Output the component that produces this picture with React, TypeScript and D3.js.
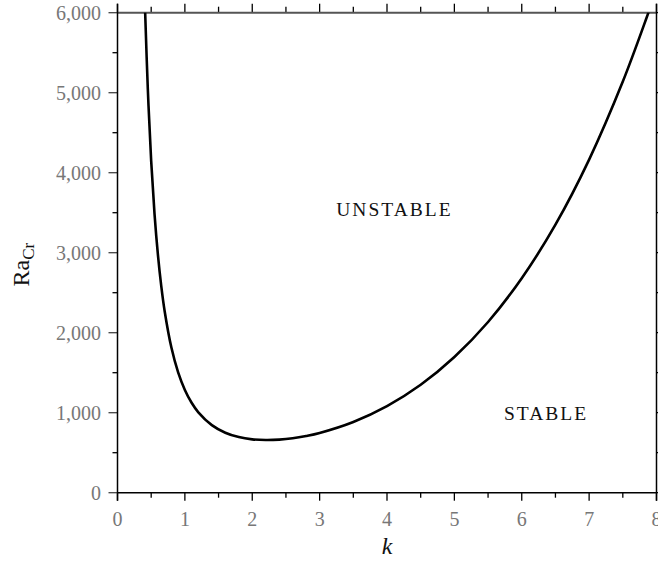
import React from "react";
import * as d3 from "d3";

const waveNumbers = [0.41, 0.45, 0.5, 0.55, 0.6, 0.65, 0.7, 0.8, 0.9, 1.0, 1.1, 1.2, 1.4, 1.6, 1.8, 2.0, 2.2, 2.4, 2.6, 2.8, 3.0, 3.5, 4.0, 4.5, 5.0, 5.5, 6.0, 6.5, 7.0, 7.5, 7.85, 7.9];
const criticalRa = [6016, 5046, 4145, 3479, 2973, 2580, 2269, 1814, 1504, 1284, 1124, 1005, 845, 750, 695, 667, 658, 663, 680, 709, 747, 884, 1082, 1349, 1696, 2134, 2681, 3351, 4164, 5139, 5930, 6050];
const xTicks = [0, 1, 2, 3, 4, 5, 6, 7, 8];
const yTicks = [0, 1000, 2000, 3000, 4000, 5000, 6000];
const regionLabels = ["UNSTABLE", "STABLE"];
const regionPos = [[4.11, 3550], [6.36, 1000]];

const W = 658, H = 561;
const left = 117.5, right = 656.5, top = 12.7, bottom = 492.7;
const FONT = "'Liberation Serif', 'Times New Roman', serif";

export default function App() {
  const x = d3.scaleLinear().domain([0, 8]).range([left, right]);
  const y = d3.scaleLinear().domain([0, 6000]).range([bottom, top]);
  const pts = waveNumbers.map((k, i) => [k, criticalRa[i]] as [number, number]);
  const line = d3.line<[number, number]>().x(d => x(d[0])).y(d => y(d[1])).curve(d3.curveCatmullRom.alpha(0.5));
  const xMinor = d3.range(0.5, 8, 1);
  const yMinor = d3.range(500, 6000, 1000);
  const fmt = d3.format(",");
  return (
    <svg width={W} height={H} style={{ position: "absolute", left: 0, top: 0, background: "#fff" }}>
      <defs>
        <clipPath id="plot"><rect x={left} y={top} width={right - left} height={bottom - top} /></clipPath>
      </defs>
      {xTicks.map(t => <line key={"xb" + t} x1={x(t)} x2={x(t)} y1={bottom} y2={bottom + 8} stroke="#000" strokeWidth={1.3} />)}
      {xMinor.map(t => <line key={"xbm" + t} x1={x(t)} x2={x(t)} y1={bottom} y2={bottom + 5} stroke="#000" strokeWidth={1.3} />)}
      {xTicks.map(t => <line key={"xt" + t} x1={x(t)} x2={x(t)} y1={top} y2={top - 9} stroke="#000" strokeWidth={1.3} />)}
      {xMinor.map(t => <line key={"xtm" + t} x1={x(t)} x2={x(t)} y1={top} y2={top - 6} stroke="#000" strokeWidth={1.3} />)}
      {yTicks.map(t => <line key={"yl" + t} x1={left} x2={left - 9} y1={y(t)} y2={y(t)} stroke="#444" strokeWidth={1.3} />)}
      {yMinor.map(t => <line key={"ylm" + t} x1={left} x2={left - 5} y1={y(t)} y2={y(t)} stroke="#000" strokeWidth={1.3} />)}
      {yTicks.map(t => <line key={"yr" + t} x1={right} x2={right + 9} y1={y(t)} y2={y(t)} stroke="#000" strokeWidth={1.3} />)}
      {yMinor.map(t => <line key={"yrm" + t} x1={right} x2={right + 5} y1={y(t)} y2={y(t)} stroke="#000" strokeWidth={1.3} />)}
      <line x1={left} x2={right} y1={top} y2={top} stroke="#555" strokeWidth={2} />
      <line x1={left} x2={right} y1={bottom} y2={bottom} stroke="#000" strokeWidth={1.5} />
      <line x1={left} x2={left} y1={top - 9} y2={bottom + 8} stroke="#000" strokeWidth={1.5} />
      <line x1={right} x2={right} y1={top - 9} y2={bottom + 8} stroke="#000" strokeWidth={1.5} />
      {xTicks.map(t => (
        <text key={"xl" + t} x={x(t)} y={526} textAnchor="middle" fontFamily={FONT} fontSize={20} fill="#777">{t}</text>
      ))}
      {yTicks.map(t => (
        <text key={"ylab" + t} x={101} y={y(t) + 7} textAnchor="end" fontFamily={FONT} fontSize={20} fill="#777">{fmt(t)}</text>
      ))}
      <path d={line(pts) ?? ""} fill="none" stroke="#000" strokeWidth={2.6} clipPath="url(#plot)" />
      {regionLabels.map((s, i) => (
        <text key={s} x={x(regionPos[i][0])} y={y(regionPos[i][1]) + 7} textAnchor="middle" fontFamily={FONT} fontSize={19.5} letterSpacing={2} fill="#111">{s}</text>
      ))}
      <text x={(left + right) / 2} y={554} textAnchor="middle" fontFamily={FONT} fontSize={24} fontStyle="italic" fill="#111">k</text>
      <text transform={`translate(29, ${(top + bottom) / 2 + 12}) rotate(-90)`} textAnchor="middle" fontFamily={FONT} fontSize={24} fill="#111">
        Ra<tspan fontSize={17} dy={5}>Cr</tspan>
      </text>
    </svg>
  );
}
